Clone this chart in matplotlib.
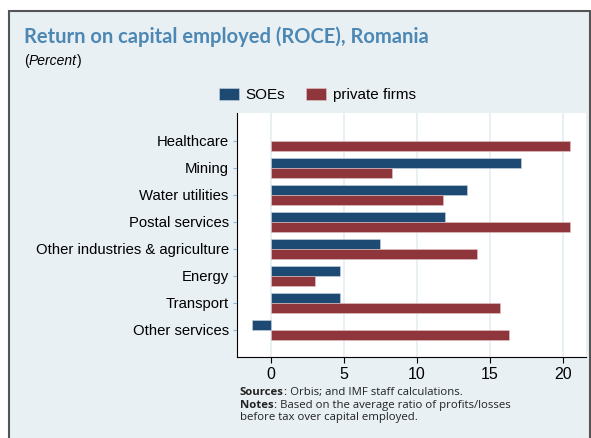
import matplotlib.pyplot as plt
from matplotlib.patches import Rectangle
import numpy as np

plt.rcParams['font.family'] = ['Liberation Sans', 'DejaVu Sans']

sectors = ["Healthcare", "Mining", "Water utilities", "Postal services",
           "Other industries & agriculture", "Energy", "Transport", "Other services"]
soes = [np.nan, 17.1, 13.4, 11.9, 7.5, 4.7, 4.7, -1.3]
private = [20.5, 8.3, 11.8, 20.5, 14.1, 3.0, 15.7, 16.3]

W, H = 591, 438
bg = "#e8f0f3"
navy = "#1d4a72"
red = "#8f363d"


def fx(x):
    return x / W


def fy(y):
    return 1 - y / H


fig = plt.figure(figsize=(W / 100, H / 100), dpi=100, facecolor="white")
fig.patches.append(Rectangle((fx(9), fy(440)), fx(581), (440 - 11) / H,
                             transform=fig.transFigure, facecolor=bg,
                             edgecolor="#555555", linewidth=1.5, zorder=-10))

ax = fig.add_axes([fx(237), fy(357), fx(586 - 237), (357 - 113) / H])
y = np.arange(len(sectors))
h = 0.37
ax.barh(y - h / 2, soes, height=h, color=navy, edgecolor="#c9d6e0", linewidth=0.4, label="SOEs", zorder=3)
ax.barh(y + h / 2, private, height=h, color=red, edgecolor="#e2c5c8", linewidth=0.4, label="private firms", zorder=3)

ax.set_xlim(-2.33, 21.58)
ax.set_ylim(8.0, -1.02)
ax.set_xticks([0, 5, 10, 15, 20])
ax.set_yticks(y)
ax.set_yticklabels(sectors)
ax.tick_params(axis="x", labelsize=11.5, length=4, pad=3)
ax.tick_params(axis="y", labelsize=10.7, length=3, color="#8fb8d8", pad=3)
ax.grid(axis="x", color="#e4eef2", linewidth=1.2, zorder=0)
for s in ["top", "right"]:
    ax.spines[s].set_visible(False)

ax.legend(loc="lower left", bbox_to_anchor=(-0.083, 1.0),
          ncol=2, frameon=False, fontsize=11, handlelength=1.3, handleheight=0.9,
          columnspacing=1.4, handletextpad=0.45, borderaxespad=0.3)

fig.text(fx(24), fy(37), "Return on capital employed (ROCE), Romania", fontsize=14.5,
         fontweight="bold", color="#4d88b5", family="Lato", va="center")
t = fig.text(fx(24), fy(61), "(", fontsize=10, va="center")
t2 = ax.annotate("Percent", xy=(1, 0), xycoords=t, fontsize=10, style="italic", va="bottom")
ax.annotate(")", xy=(1, 0), xycoords=t2, fontsize=10, va="bottom")

notes = [("Sources", ": Orbis; and IMF staff calculations."),
         ("Notes", ": Based on the average ratio of profits/losses"),
         ("", "before tax over capital employed.")]
for i, (b, rest) in enumerate(notes):
    yy = fy(392.7 + 12.5 * i)
    tb = fig.text(fx(240), yy, b, fontsize=8.2, fontweight="bold", family="Open Sans", va="center", color="#222222")
    if b:
        ax.annotate(rest, xy=(1, 0), xycoords=tb, fontsize=8.2, family="Open Sans", va="bottom", color="#222222")
    else:
        tb.set_text(rest)
        tb.set_fontweight("normal")

fig.savefig("out.png", dpi=100, facecolor="white")
